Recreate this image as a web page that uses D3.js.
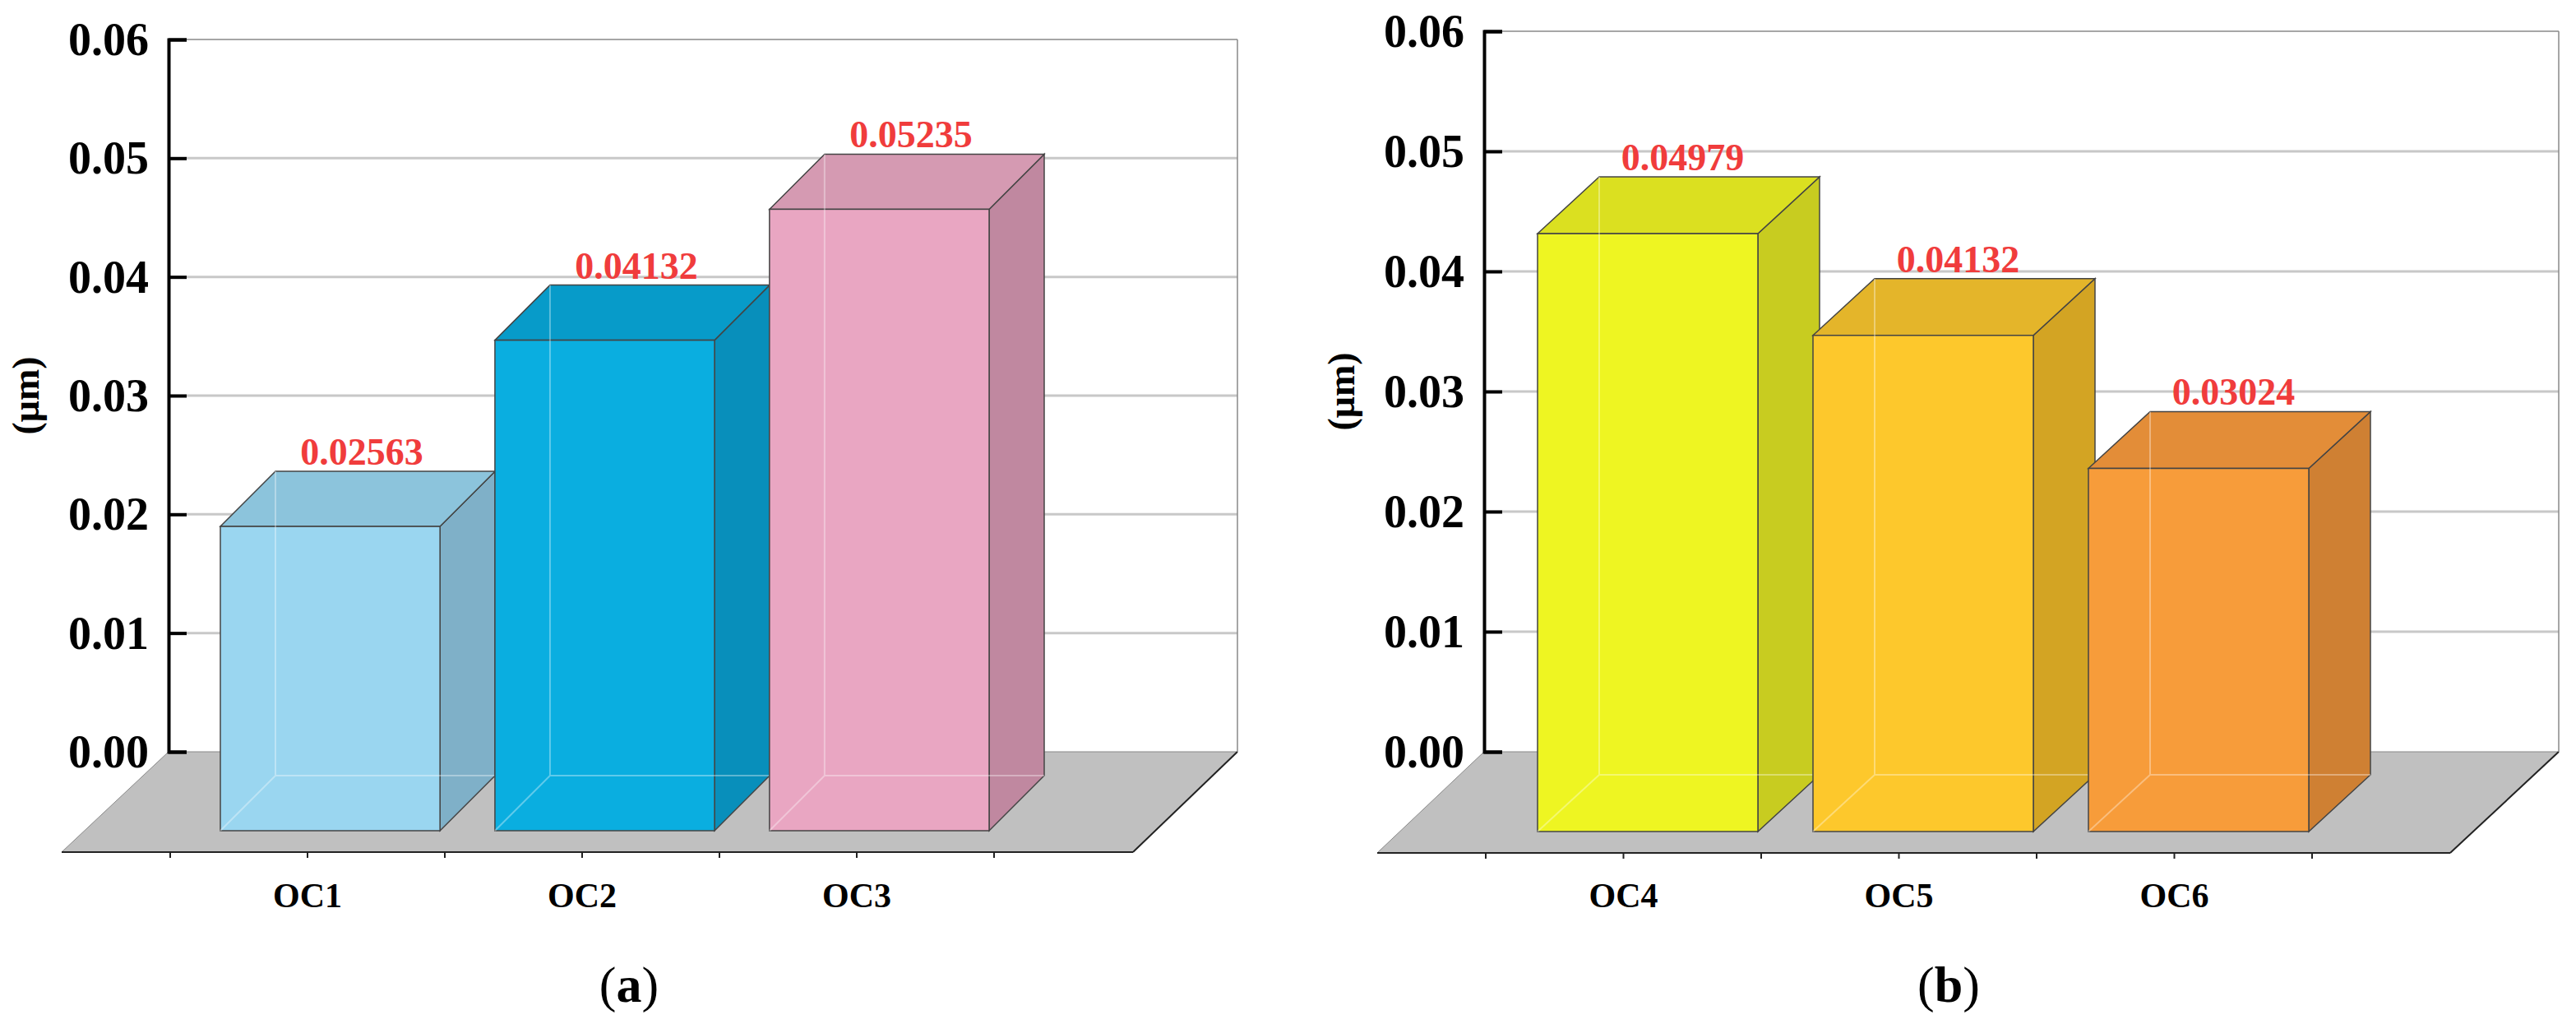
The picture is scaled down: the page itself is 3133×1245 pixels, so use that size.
<!DOCTYPE html>
<html>
<head>
<meta charset="utf-8">
<script src="https://cdn.jsdelivr.net/npm/d3@7"></script>
<style>
  body { margin: 0; background: #fff; }
  text { font-family: "Liberation Serif", "Times New Roman", serif; }
</style>
</head>
<body>
<div id="chart"></div>
<script>
const catsA = ['OC1', 'OC2', 'OC3'];
const valsA = [0.02563, 0.04132, 0.05235];
const catsB = ['OC4', 'OC5', 'OC6'];
const valsB = [0.04979, 0.04132, 0.03024];
const ticks = [0, 0.01, 0.02, 0.03, 0.04, 0.05, 0.06];
const colorsA = [
  { front: '#9ad6f0', side: '#7fb0c8', top: '#8cc4dc' },
  { front: '#0aaee0', side: '#088fbb', top: '#079bc9' },
  { front: '#e9a6c2', side: '#c088a0', top: '#d59ab2' }
];
const colorsB = [
  { front: '#eef522', side: '#c8cc20', top: '#dbe020' },
  { front: '#fdc82c', side: '#d3a423', top: '#e4b52a' },
  { front: '#f79c3a', side: '#cf8033', top: '#e38d38' }
];

const svg = d3.select('#chart').append('svg')
  .attr('width', 3133).attr('height', 1245);

function panel(cfg) {
  const g = svg.append('g');
  const y = d3.scaleLinear().domain([0, 0.06]).range([cfg.zero, cfg.top]);
  const per = cfg.zero - cfg.top;

  // floor
  g.append('polygon')
    .attr('points', [[cfg.axisX, cfg.zero], [cfg.right, cfg.zero],
      [cfg.floorR, cfg.floorY], [cfg.floorL, cfg.floorY]].join(' '))
    .attr('fill', '#c0c0c0').attr('stroke', '#888').attr('stroke-width', 1);
  g.append('line').attr('x1', cfg.floorL).attr('x2', cfg.floorR)
    .attr('y1', cfg.floorY).attr('y2', cfg.floorY).attr('stroke', '#222').attr('stroke-width', 2);
  g.append('line').attr('x1', cfg.floorR).attr('x2', cfg.right)
    .attr('y1', cfg.floorY).attr('y2', cfg.zero).attr('stroke', '#222').attr('stroke-width', 2);

  // grid
  g.selectAll('.grid').data(ticks.slice(1)).join('line')
    .attr('x1', cfg.axisX).attr('x2', cfg.right)
    .attr('y1', d => y(d)).attr('y2', d => y(d))
    .attr('stroke', d => d === 0.06 ? '#888' : '#c8c8c8')
    .attr('stroke-width', d => d === 0.06 ? 1.5 : 3);
  g.append('line').attr('x1', cfg.right).attr('x2', cfg.right)
    .attr('y1', cfg.top).attr('y2', cfg.zero).attr('stroke', '#888').attr('stroke-width', 1.5);

  // y axis
  g.append('g').attr('transform', `translate(${cfg.axisX},0)`)
    .call(d3.axisRight(y).tickValues(ticks).tickSize(22).tickFormat(''))
    .call(a => a.select('.domain').attr('stroke-width', 4))
    .call(a => a.selectAll('.tick line').attr('stroke-width', 4));
  g.selectAll('.ylab').data(ticks).join('text')
    .attr('x', cfg.axisX - 24).attr('y', d => y(d) + 19)
    .attr('text-anchor', 'end').attr('font-size', 56).attr('font-weight', 'bold')
    .text(d => d.toFixed(2));
  g.append('text')
    .attr('transform', `translate(${cfg.axisX - 158},${(cfg.top + cfg.zero) / 2}) rotate(-90)`)
    .attr('text-anchor', 'middle').attr('font-size', 46).attr('font-weight', 'bold')
    .text('(μm)');

  // floor ticks and category labels
  const xc = d3.scaleBand().domain(cfg.cats).range([cfg.floorTickL, cfg.floorTickR]);
  const tickXs = [];
  cfg.cats.forEach(c => { tickXs.push(xc(c), xc(c) + xc.bandwidth() / 2); });
  tickXs.push(cfg.floorTickR);
  g.selectAll('.ft').data(tickXs).join('line')
    .attr('x1', d => d).attr('x2', d => d)
    .attr('y1', cfg.floorY).attr('y2', cfg.floorY + 7)
    .attr('stroke', '#222').attr('stroke-width', 2);
  g.selectAll('.cat').data(cfg.cats).join('text')
    .attr('x', d => xc(d) + xc.bandwidth() / 2).attr('y', 1103)
    .attr('text-anchor', 'middle').attr('font-size', 42).attr('font-weight', 'bold')
    .text(d => d);

  // bars
  const xb = d3.scaleBand().domain(cfg.cats).range([cfg.barL, cfg.barR]).paddingInner(0.2);
  const hb = d3.scaleLinear().domain([0, 0.06]).range([cfg.base, cfg.base - per]);
  const dx = cfg.dx, dy = cfg.dy, w = xb.bandwidth();
  const bars = g.selectAll('.bar').data(cfg.vals).join('g');
  bars.each(function (v, i) {
    const b = d3.select(this);
    const x0 = xb(cfg.cats[i]), yt = hb(v), yb = cfg.base;
    const col = cfg.colors[i];
    b.append('polygon')
      .attr('points', [[x0 + w, yt], [x0 + w + dx, yt + dy], [x0 + w + dx, yb + dy], [x0 + w, yb]].join(' '))
      .attr('fill', col.side).attr('stroke', '#444').attr('stroke-width', 1.5);
    b.append('polygon')
      .attr('points', [[x0, yt], [x0 + dx, yt + dy], [x0 + w + dx, yt + dy], [x0 + w, yt]].join(' '))
      .attr('fill', col.top).attr('stroke', '#444').attr('stroke-width', 1.5);
    b.append('rect').attr('x', x0).attr('y', yt).attr('width', w).attr('height', yb - yt)
      .attr('fill', col.front).attr('stroke', '#444').attr('stroke-width', 1.5);
    // faint hidden edges for the translucent look
    b.append('path')
      .attr('d', `M${x0},${yb}L${x0 + dx},${yb + dy}L${x0 + w + dx},${yb + dy}M${x0 + dx},${yb + dy}L${x0 + dx},${yt + dy}`)
      .attr('fill', 'none').attr('stroke', '#fff').attr('stroke-opacity', 0.35).attr('stroke-width', 2);
    b.append('text')
      .attr('x', x0 + w / 2 + dx / 2 + 5).attr('y', yt + dy - 8)
      .attr('text-anchor', 'middle').attr('font-size', 46).attr('font-weight', 'bold')
      .attr('fill', '#f03c3c').text(v.toFixed(5));
  });

  // caption
  const cap = g.append('text').attr('x', cfg.capX).attr('y', 1218)
    .attr('text-anchor', 'middle').attr('font-size', 62);
  cap.append('tspan').text('(');
  cap.append('tspan').attr('font-weight', 'bold').text(cfg.cap);
  cap.append('tspan').text(')');
}

panel({
  cats: catsA, vals: valsA, colors: colorsA, cap: 'a', capX: 765,
  axisX: 205, top: 48, zero: 914, right: 1505,
  floorL: 75, floorR: 1378, floorY: 1036, floorTickL: 207, floorTickR: 1209,
  barL: 268, barR: 1203, base: 1010, dx: 67, dy: -67
});
panel({
  cats: catsB, vals: valsB, colors: colorsB, cap: 'b', capX: 2370,
  axisX: 1805, top: 38, zero: 914, right: 3112,
  floorL: 1675, floorR: 2980, floorY: 1037, floorTickL: 1807, floorTickR: 2812,
  barL: 1870, barR: 2808, base: 1011, dx: 75, dy: -69
});
</script>
</body>
</html>
